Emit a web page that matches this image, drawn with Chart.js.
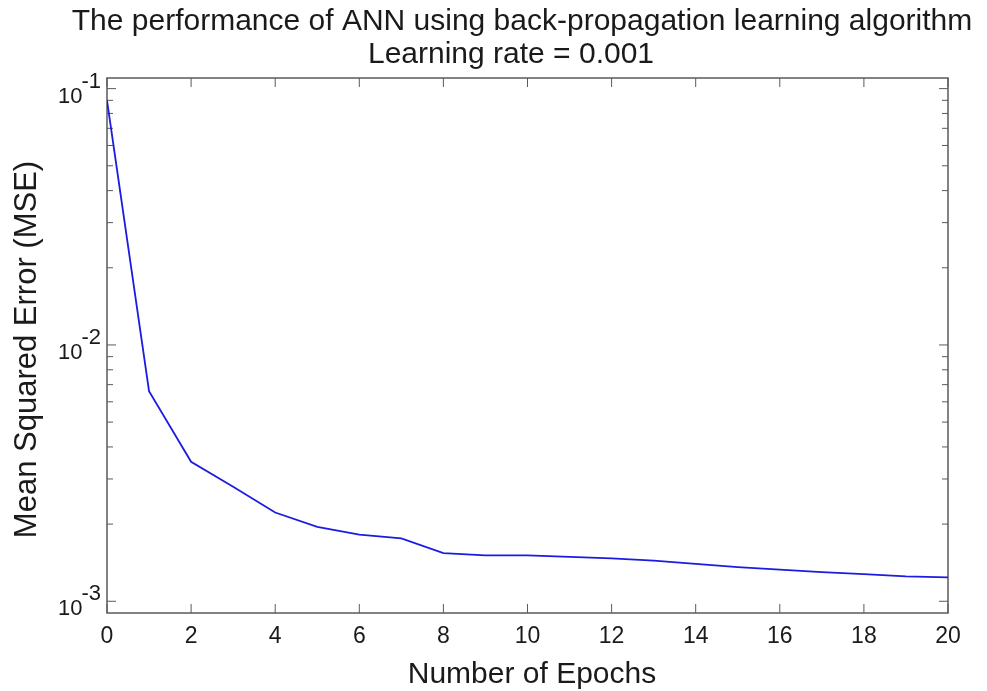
<!DOCTYPE html>
<html>
<head>
<meta charset="utf-8">
<script src="https://cdn.jsdelivr.net/npm/chart.js@4"></script>
<style>
  body { margin: 0; background: #fff; }
</style>
</head>
<body>
<canvas id="mseChart" width="987" height="691"></canvas>
<script>
const epochs = [0, 1, 2, 3, 4, 5, 6, 7, 8, 9, 10, 11, 12, 13, 14, 15, 16, 17, 18, 19, 20];
const mse = [0.09, 0.0066, 0.0035, 0.0028, 0.00222, 0.00195, 0.00182, 0.00176, 0.00154, 0.00151,
             0.00151, 0.00149, 0.00147, 0.00144, 0.0014, 0.00136, 0.00133, 0.0013, 0.001275, 0.00125, 0.00124];

const xTicks = [0, 2, 4, 6, 8, 10, 12, 14, 16, 18, 20];
const yDecades = [0.001, 0.01, 0.1];
const yExponents = ['-3', '-2', '-1'];

const titleLines = ['The performance of ANN using back-propagation learning algorithm', 'Learning rate = 0.001'];
const xTitle = 'Number of Epochs';
const yTitle = 'Mean Squared Error (MSE)';

const FONT = '"Liberation Sans", Arial, sans-serif';
const AXIS = '#5a5a5a';

// matlab-style box, inward ticks, tick labels and titles
const matlabAxes = {
  id: 'matlabAxes',
  beforeDatasetsDraw(chart) {
    const { ctx, chartArea: a, scales: { x, y } } = chart;
    ctx.save();
    ctx.strokeStyle = AXIS;
    ctx.lineWidth = 1.5;
    ctx.strokeRect(a.left, a.top, a.right - a.left, a.bottom - a.top);

    ctx.lineWidth = 1;
    ctx.beginPath();
    xTicks.forEach(v => {
      const px = x.getPixelForValue(v);
      ctx.moveTo(px, a.bottom); ctx.lineTo(px, a.bottom - 9);
      ctx.moveTo(px, a.top); ctx.lineTo(px, a.top + 9);
    });
    yDecades.forEach(d => {
      for (let m = 1; m <= 9; m++) {
        const v = d * m;
        if (v < y.min || v > y.max) continue;
        const py = y.getPixelForValue(v);
        const len = m === 1 ? 9 : 6;
        ctx.moveTo(a.left, py); ctx.lineTo(a.left + len, py);
        ctx.moveTo(a.right, py); ctx.lineTo(a.right - len, py);
      }
    });
    ctx.stroke();
    ctx.restore();
  },
  afterDraw(chart) {
    const { ctx, chartArea: a, scales: { x, y } } = chart;
    ctx.save();
    ctx.fillStyle = '#1a1a1a';

    // x tick labels
    ctx.font = '23px ' + FONT;
    ctx.textAlign = 'center';
    ctx.textBaseline = 'alphabetic';
    xTicks.forEach(v => ctx.fillText(String(v), x.getPixelForValue(v), a.bottom + 30));

    // y tick labels as 10 with raised exponent
    ctx.font = '22px ' + FONT;
    yDecades.forEach((d, i) => {
      const py = y.getPixelForValue(d);
      ctx.textAlign = 'right';
      const expW = ctx.measureText(yExponents[i]).width;
      ctx.fillText(yExponents[i], a.left - 6, py - 1);
      ctx.fillText('10', a.left - 6 - expW + 1, py + 14);
    });

    // titles
    ctx.font = '30px ' + FONT;
    ctx.textAlign = 'center';
    ctx.fillText(titleLines[0], 522, 30);
    ctx.fillText(titleLines[1], 511, 63);
    ctx.fillText(xTitle, 532, 683);

    ctx.font = '31px ' + FONT;
    ctx.translate(36, (a.top + a.bottom) / 2 + 4);
    ctx.rotate(-Math.PI / 2);
    ctx.fillText(yTitle, 0, 0);
    ctx.restore();
  }
};

new Chart(document.getElementById('mseChart'), {
  type: 'line',
  data: {
    labels: epochs,
    datasets: [{
      data: epochs.map((e, i) => ({ x: e, y: mse[i] })),
      borderColor: 'rgb(28, 28, 225)',
      borderWidth: 1.8,
      pointRadius: 0,
      tension: 0,
      fill: false
    }]
  },
  options: {
    responsive: false,
    animation: false,
    layout: { padding: { left: 107, right: 39, top: 78, bottom: 78 } },
    plugins: { legend: { display: false }, tooltip: { enabled: false } },
    scales: {
      x: { type: 'linear', min: 0, max: 20, display: false },
      y: { type: 'logarithmic', min: 0.0009, max: 0.11, display: false }
    }
  },
  plugins: [matlabAxes]
});
</script>
</body>
</html>
